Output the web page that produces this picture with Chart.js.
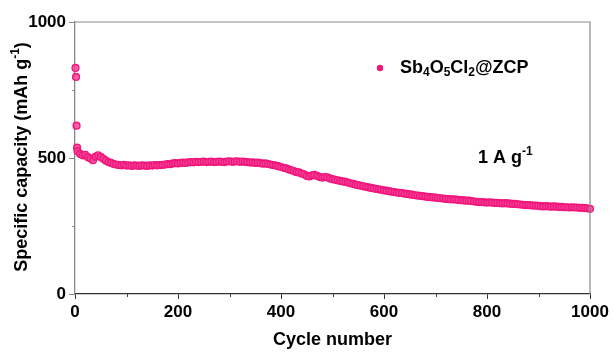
<!DOCTYPE html>
<html><head><meta charset="utf-8">
<script src="https://cdn.jsdelivr.net/npm/chart.js@4/dist/chart.umd.min.js"></script>
<style>html,body{margin:0;padding:0;background:#fff;}canvas{display:block;}</style>
</head><body>
<canvas id="c" width="614" height="353"></canvas>
<script>
const seriesName = 'Sb4O5Cl2@ZCP';
const cycles = [1,2,3,4,5,10,15,20,25,30,35,40,45,50,55,60,65,70,75,80,85,90,95,100,
105,110,115,120,125,130,135,140,145,150,155,160,165,170,175,180,185,190,195,200,
205,210,215,220,225,230,235,240,245,250,255,260,265,270,275,280,285,290,295,300,
305,310,315,320,325,330,335,340,345,350,355,360,365,370,375,380,385,390,395,400,
405,410,415,420,425,430,435,440,445,450,455,460,465,470,475,480,485,490,495,500,
505,510,515,520,525,530,535,540,545,550,555,560,565,570,575,580,585,590,595,600,
605,610,615,620,625,630,635,640,645,650,655,660,665,670,675,680,685,690,695,700,
705,710,715,720,725,730,735,740,745,750,755,760,765,770,775,780,785,790,795,800,
805,810,815,820,825,830,835,840,845,850,855,860,865,870,875,880,885,890,895,900,
905,910,915,920,925,930,935,940,945,950,955,960,965,970,975,980,985,990,995,1000];
const capacity = [831,798,619,538,525,515,510,512,503,498,492,505,510,504,497,490,485,482,478,476,474,473,475,472,
473,471,473,472,471,473,472,471,473,472,474,473,474,475,476,478,477,480,481,480,
482,483,482,484,485,484,486,485,486,487,485,486,487,485,486,487,486,485,487,488,
486,487,488,486,487,486,485,483,484,482,483,481,479,480,478,476,474,472,470,467,
464,462,458,455,452,448,447,443,440,434,432,436,438,434,430,428,430,429,425,422,
420,418,416,414,412,410,407,405,402,400,398,396,394,392,390,388,386,385,383,381,
380,378,376,375,373,372,371,369,368,366,365,363,362,361,360,358,357,356,355,354,
353,352,351,350,349,348,348,347,346,345,344,343,343,342,340,339,338,338,337,336,
337,336,335,335,334,333,334,333,332,331,331,330,329,328,327,327,326,325,325,324,
323,322,323,322,321,322,321,320,320,319,319,318,319,318,318,317,317,316,315,313];
const xTickValues = [0,200,400,600,800,1000];
const xMinorTicks = [100,300,500,700,900];
const yTickValues = [0,500,1000];
const yMinorTicks = [250,750];
const rateLabel = '1 A g';

const PINK = '#F0167D';
const FONT = '"Liberation Sans", Arial, sans-serif';

const decor = {
  id: 'decor',
  afterDraw(chart) {
    const {ctx, chartArea: a, scales: {x, y}} = chart;
    ctx.save();
    ctx.strokeStyle = '#8a8a8a'; ctx.lineWidth = 1.2;
    ctx.beginPath();
    ctx.moveTo(a.left, a.top); ctx.lineTo(a.right, a.top); ctx.lineTo(a.right, a.bottom);
    ctx.stroke();
    ctx.strokeStyle = '#444'; ctx.lineWidth = 1;
    ctx.beginPath();
    xMinorTicks.forEach(v => { const px = Math.round(x.getPixelForValue(v)) + 0.5; ctx.moveTo(px, a.bottom); ctx.lineTo(px, a.bottom + 3); });
    ctx.stroke();
    ctx.strokeStyle = '#888';
    ctx.beginPath();
    yMinorTicks.forEach(v => { const py = Math.round(y.getPixelForValue(v)) + 0.5; ctx.moveTo(a.left - 3, py); ctx.lineTo(a.left, py); });
    ctx.stroke();

    ctx.fillStyle = '#000';
    ctx.textBaseline = 'middle';
    ctx.textAlign = 'left';
    const big = 'bold 18px ' + FONT, small = 'bold 12px ' + FONT;

    ctx.save();
    ctx.translate(22, 157);
    ctx.rotate(-Math.PI / 2);
    const parts = [['Specific capacity (mAh g', big, 0], ['-1', small, -6], [')', big, 0]];
    let tw = 0;
    parts.forEach(p => { ctx.font = p[1]; tw += ctx.measureText(p[0]).width; });
    let cx = -tw / 2;
    parts.forEach(p => { ctx.font = p[1]; ctx.fillText(p[0], cx, p[2]); cx += ctx.measureText(p[0]).width; });
    ctx.restore();

    ctx.fillStyle = PINK;
    ctx.beginPath(); ctx.arc(380, 68, 3.2, 0, Math.PI * 2); ctx.fill();
    ctx.fillStyle = '#000';
    const leg = [['Sb', big, 0], ['4', small, 5], ['O', big, 0], ['5', small, 5], ['Cl', big, 0], ['2', small, 5], ['@ZCP', big, 0]];
    cx = 400;
    leg.forEach(p => { ctx.font = p[1]; ctx.fillText(p[0], cx, 68 + p[2]); cx += ctx.measureText(p[0]).width; });

    const rate = [[rateLabel, big, 0], ['-1', small, -6]];
    cx = 478;
    rate.forEach(p => { ctx.font = p[1]; ctx.fillText(p[0], cx, 158 + p[2]); cx += ctx.measureText(p[0]).width; });
    ctx.restore();
  }
};

new Chart(document.getElementById('c'), {
  type: 'scatter',
  data: {
    datasets: [{
      label: seriesName,
      data: cycles.map((c, i) => ({x: c, y: capacity[i]})),
      pointRadius: 3.4,
      pointBorderWidth: 1.4,
      pointBorderColor: PINK,
      pointBackgroundColor: 'rgba(246,70,150,0.85)',
      pointHoverRadius: 3.4,
      clip: false
    }]
  },
  options: {
    responsive: false,
    animation: false,
    events: [],
    layout: {padding: {left: 0, top: 22, right: 24, bottom: 0}},
    plugins: {legend: {display: false}, tooltip: {enabled: false}},
    scales: {
      x: {
        type: 'linear', min: 0, max: 1000,
        afterFit(s) { s.height = 59; },
        afterBuildTicks(s) { s.ticks = xTickValues.map(v => ({value: v})); },
        ticks: {color: '#000', font: {family: FONT, size: 17, weight: 'bold'}, padding: 3, maxRotation: 0, autoSkip: false, callback: v => String(v)},
        grid: {display: true, drawOnChartArea: false, drawTicks: true, tickLength: 5, color: '#333', lineWidth: 1},
        border: {display: true, color: '#333', width: 1.3},
        title: {display: true, text: 'Cycle number', color: '#000', font: {family: FONT, size: 18, weight: 'bold'}, padding: {top: 0, bottom: 2}}
      },
      y: {
        type: 'linear', min: 0, max: 1000,
        afterFit(s) { s.width = 75; },
        afterBuildTicks(s) { s.ticks = yTickValues.map(v => ({value: v})); },
        ticks: {color: '#000', font: {family: FONT, size: 17, weight: 'bold'}, padding: 3, callback: v => String(v)},
        grid: {display: true, drawOnChartArea: false, drawTicks: true, tickLength: 6, color: '#888', lineWidth: 1},
        border: {display: true, color: '#888', width: 1.3}
      }
    }
  },
  plugins: [decor]
});
</script>
</body></html>
